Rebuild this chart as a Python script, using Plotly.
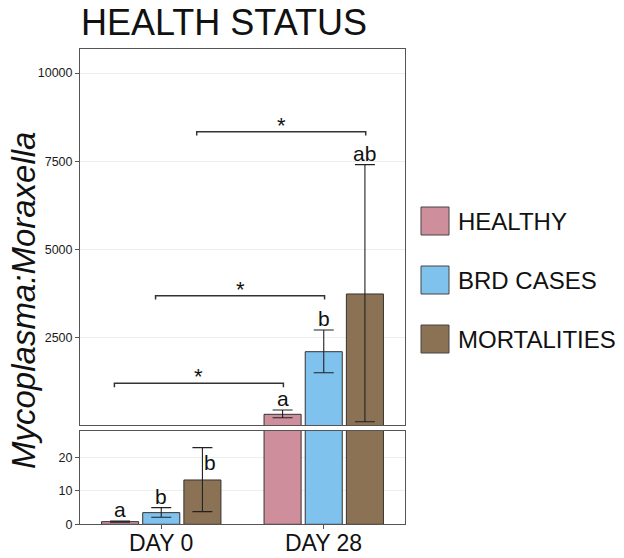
import plotly.graph_objects as go

# ---------------- data ----------------
days = ["DAY 0", "DAY 28"]
groups = ["HEALTHY", "BRD CASES", "MORTALITIES"]
colors = ["#CF8E9C", "#7FC2EE", "#8C7254"]

mean_healthy = [0.8, 340]
mean_brd = [3.5, 2112]
mean_mort = [13.3, 3746]

upper_healthy = [1.0, 460]
upper_brd = [5.0, 2726]
upper_mort = [23.0, 7406]

lower_healthy = [0.6, 244]
lower_brd = [2.1, 1518]
lower_mort = [3.8, 130]

letters_healthy = ["a", "a"]
letters_brd = ["b", "b"]
letters_mort = ["b", "ab"]
letter_y_mort_day0 = 18.5

# significance brackets: (group index, bracket height)
brackets = [(0, 1218), (1, 3698), (2, 8339)]

means = [mean_healthy, mean_brd, mean_mort]
uppers = [upper_healthy, upper_brd, upper_mort]
lowers = [lower_healthy, lower_brd, lower_mort]
letters = [letters_healthy, letters_brd, letters_mort]

# ---------------- layout geometry ----------------
W, H = 624, 558
def px_x(p):
    return p / W
def px_y(p):
    return (H - p) / H

FONT = "Liberation Sans, Arial, sans-serif"
BORDER = "#555555"
INK = "#222222"

bargap = 0.24
slot = (1 - bargap) / 3

fig = go.Figure()

for i, g in enumerate(groups):
    err = dict(type="data", symmetric=False,
               array=[u - m for u, m in zip(uppers[i], means[i])],
               arrayminus=[m - l for m, l in zip(means[i], lowers[i])],
               color=INK, thickness=1.1, width=10)
    # top panel
    fig.add_trace(go.Bar(x=days, y=means[i], name=g, marker=dict(color=colors[i], line=dict(color="#333333", width=1)),
                         error_y=err, xaxis="x2", yaxis="y", showlegend=False))
    # bottom panel
    fig.add_trace(go.Bar(x=days, y=means[i], name=g, marker=dict(color=colors[i], line=dict(color="#333333", width=1)),
                         error_y=err, xaxis="x", yaxis="y2", showlegend=False))

fig.update_layout(
    width=W, height=H, autosize=False,
    margin=dict(l=0, r=0, t=0, b=0),
    paper_bgcolor="white", plot_bgcolor="white",
    barmode="group", bargap=bargap, bargroupgap=0.1,
    font=dict(family=FONT, color=INK),
    xaxis=dict(domain=[px_x(80), px_x(405)], anchor="y2", type="category", range=[-0.5, 1.5],
               automargin=False, showline=True, mirror=True, linecolor=BORDER, linewidth=1,
               ticks="outside", ticklen=4, tickcolor=BORDER, showgrid=False,
               showticklabels=False),
    xaxis2=dict(domain=[px_x(80), px_x(405)], anchor="y", type="category", range=[-0.5, 1.5],
                automargin=False, matches="x", showline=True, mirror=True, linecolor=BORDER, linewidth=1,
                showticklabels=False, ticks="", showgrid=False),
    yaxis=dict(domain=[px_y(425), px_y(49)], anchor="x2", range=[37, 10680], automargin=False,
               tickvals=[2500, 5000, 7500, 10000], ticktext=["2500", "5000", "7500", "10000"],
               showline=True, mirror=True, linecolor=BORDER, linewidth=1,
               ticks="outside", ticklen=4, tickcolor=BORDER,
               showgrid=True, gridcolor="#EEEEEE", gridwidth=1, zeroline=False,
               tickfont=dict(size=12.5, color="#1A1A1A", family=FONT)),
    yaxis2=dict(domain=[px_y(524.3), px_y(431)], anchor="x", range=[0, 28], automargin=False,
                tickvals=[0, 10, 20], showline=True, mirror=True, linecolor=BORDER, linewidth=1,
                ticks="outside", ticklen=4, tickcolor=BORDER,
                showgrid=True, gridcolor="#EEEEEE", gridwidth=1, zeroline=False,
                tickfont=dict(size=12.5, color="#1A1A1A", family=FONT)),
)

annotations = []
shapes = []

# category labels under the bottom axis
for d, lab in enumerate(days):
    annotations.append(dict(x=d, y=px_y(542.5), xref="x", yref="paper", text=lab, showarrow=False,
                            xanchor="center", yanchor="middle",
                            font=dict(size=23, color="#111111", family=FONT)))

# letters above bars
for i in range(3):
    off = (i - 1) * slot
    for d in range(2):
        special = (d == 0 and i == 2)
        yv = letter_y_mort_day0 if special else uppers[i][d]
        xs = 0.045 if special else 0
        annotations.append(dict(x=d + off + xs, y=yv, xref="x2" if d == 1 else "x",
                                yref="y" if d == 1 else "y2",
                                text=letters[i][d], showarrow=False,
                                yanchor="middle" if special else "bottom",
                                yshift=0 if special else -2,
                                font=dict(size=21, color="#111111", family=FONT)))

# significance brackets
tick_h = 110
for gi, yb in brackets:
    off = (gi - 1) * slot
    x0 = 0 + off - 0.035
    x1 = 1 + off + 0.005
    shapes.append(dict(type="path", xref="x2", yref="y",
                       path=f"M {x0},{yb - tick_h} L {x0},{yb} L {x1},{yb} L {x1},{yb - tick_h}",
                       line=dict(color="#333333", width=1.5)))
    annotations.append(dict(x=(x0 + x1) / 2, y=yb, xref="x2", yref="y", text="*", showarrow=False,
                            yanchor="bottom", yshift=-8, font=dict(size=22, color="#111111", family=FONT)))

# title
annotations.append(dict(x=px_x(79), y=px_y(22), xref="paper", yref="paper", text="HEALTH STATUS",
                        showarrow=False, xanchor="left", yanchor="middle",
                        font=dict(size=36, color="#111111", family=FONT)))
# y-axis title
annotations.append(dict(x=px_x(23), y=px_y(301), xref="paper", yref="paper",
                        text="<i>Mycoplasma:Moraxella</i>", textangle=-90, showarrow=False,
                        xanchor="center", yanchor="middle",
                        font=dict(size=33, color="#111111", family=FONT)))

# legend (manual)
leg_centers = [221, 280, 339]
for i, g in enumerate(groups):
    cy = leg_centers[i]
    shapes.append(dict(type="rect", xref="paper", yref="paper",
                       x0=px_x(421), x1=px_x(449), y0=px_y(cy + 14), y1=px_y(cy - 14),
                       fillcolor=colors[i], line=dict(color="#444444", width=1)))
    annotations.append(dict(x=px_x(456), y=px_y(cy), xref="paper", yref="paper", text=g,
                            showarrow=False, xanchor="left", yanchor="middle",
                            font=dict(size=24, color="#111111", family=FONT)))

fig.update_layout(annotations=annotations, shapes=shapes)
fig.write_html("out.html", config={"displayModeBar": False},
               post_script="document.body.style.margin='0';document.body.style.overflow='hidden';")
